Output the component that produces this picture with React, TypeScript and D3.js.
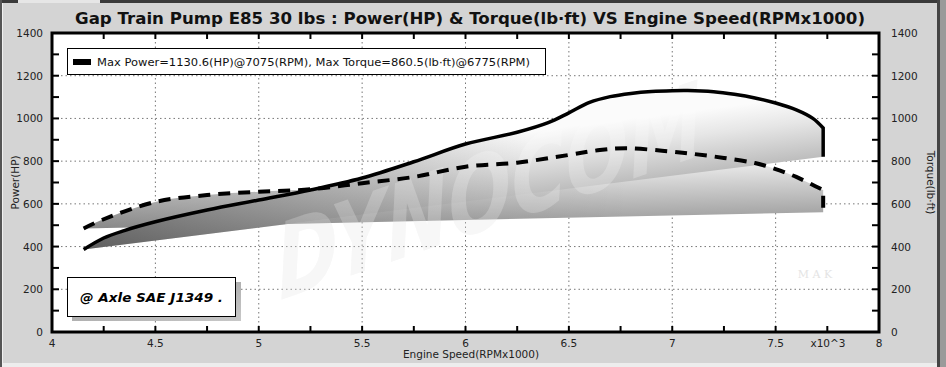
import * as d3 from 'd3';

// values (rpm x1000)
const powerRpm = [4.153, 4.25, 4.35, 4.5, 4.75, 5.0, 5.25, 5.5, 5.75, 6.0, 6.25, 6.4, 6.5, 6.6, 6.7, 6.8, 6.9, 7.0, 7.075, 7.2, 7.3, 7.4, 7.5, 7.6, 7.68, 7.73];
const powerHp = [386, 440, 475, 516, 571, 618, 665, 721, 797, 880, 935, 980, 1026, 1075, 1102, 1117, 1126, 1130, 1130.6, 1125, 1113, 1096, 1072, 1040, 1000, 955];
const torqueRpm = [4.153, 4.25, 4.5, 4.75, 5.0, 5.25, 5.5, 5.75, 6.0, 6.25, 6.5, 6.65, 6.775, 6.95, 7.1, 7.25, 7.4, 7.5, 7.6, 7.7, 7.73];
const torqueLbft = [485, 528, 609, 641, 657, 668, 697, 726, 774, 793, 829, 852, 860.5, 849, 834, 815, 791, 763, 726, 679, 665];
// floor of the shaded ribbons (start, end)
const powerFloor = [386, 820];
const torqueFloor = [485, 561];

const xTicks = [4, 4.5, 5, 5.5, 6, 6.5, 7, 7.5, 8];
const yTicks = [0, 200, 400, 600, 800, 1000, 1200, 1400];

const title = 'Gap Train Pump E85 30 lbs : Power(HP) & Torque(lb·ft) VS Engine Speed(RPMx1000)';
const legendText = 'Max Power=1130.6(HP)@7075(RPM), Max Torque=860.5(lb·ft)@6775(RPM)';

const W = 946;
const H = 367;
const font = 'DejaVu Sans, Verdana, sans-serif';

// gradient vector running from the floor line straight "up" off it
function ribbonGrad(x0: number, y0: number, x1: number, y1: number, len: number) {
  const dx = x1 - x0;
  const dy = y1 - y0;
  const n = Math.hypot(dx, dy);
  const nx = dy / n;
  const ny = -dx / n;
  const mx = (x0 + x1) / 2;
  const my = (y0 + y1) / 2;
  return { x1: mx, y1: my, x2: mx + nx * len, y2: my + ny * len };
}

export default function App() {
  const x = d3.scaleLinear().domain([4, 8]).range([52, 879]);
  const y = d3.scaleLinear().domain([0, 1400]).range([332, 33]);

  const power = powerRpm.map((r, i) => [r, powerHp[i]] as [number, number]);
  const torque = torqueRpm.map((r, i) => [r, torqueLbft[i]] as [number, number]);

  const line = d3.line<[number, number]>().x(d => x(d[0])).y(d => y(d[1])).curve(d3.curveCatmullRom.alpha(0.5));

  const pStart = power[0][0];
  const pEnd = power[power.length - 1][0];
  const tStart = torque[0][0];
  const tEnd = torque[torque.length - 1][0];
  const powerLine = line(power) + `L${x(pEnd)},${y(powerFloor[1])}`;
  const torqueLine = line(torque) + `L${x(tEnd)},${y(torqueFloor[1])}`;
  const powerArea = powerLine + `L${x(pStart)},${y(powerFloor[0])}Z`;
  const torqueArea = torqueLine + `L${x(tStart)},${y(torqueFloor[0])}Z`;

  const gp = ribbonGrad(x(pStart), y(powerFloor[0]), x(pEnd), y(powerFloor[1]), 62);
  const gt = ribbonGrad(x(tStart), y(torqueFloor[0]), x(tEnd), y(torqueFloor[1]), 55);

  const minorX = d3.range(4, 8.01, 0.25);
  const minorY = d3.range(0, 1401, 100);

  return (
    <svg width={W} height={H} style={{ position: 'absolute', left: 0, top: 0 }} fontFamily={font}>
      <defs>
        <linearGradient id="gp" gradientUnits="userSpaceOnUse" {...gp}>
          <stop offset="0" stopColor="#bdbdbd" />
          <stop offset="0.6" stopColor="#e6e6e6" />
          <stop offset="1" stopColor="#fbfbfb" />
        </linearGradient>
        <linearGradient id="gt" gradientUnits="userSpaceOnUse" {...gt}>
          <stop offset="0" stopColor="#a6a6a6" />
          <stop offset="0.6" stopColor="#d2d2d2" />
          <stop offset="1" stopColor="#f0f0f0" />
        </linearGradient>
        <linearGradient id="dp" gradientUnits="userSpaceOnUse" x1={x(pStart)} y1={0} x2={x(6.3)} y2={0}>
          <stop offset="0" stopColor="#000" stopOpacity={0.5} />
          <stop offset="1" stopColor="#000" stopOpacity={0} />
        </linearGradient>
        <linearGradient id="dt" gradientUnits="userSpaceOnUse" x1={x(tStart)} y1={0} x2={x(6.8)} y2={0}>
          <stop offset="0" stopColor="#000" stopOpacity={0.18} />
          <stop offset="1" stopColor="#000" stopOpacity={0} />
        </linearGradient>
        <linearGradient id="sh" x1="0" y1="0" x2="1" y2="1">
          <stop offset="0" stopColor="#9a9a9a" />
          <stop offset="1" stopColor="#c8c8c8" />
        </linearGradient>
      </defs>

      {/* page */}
      <rect width={W} height={H} fill="#d4d4d4" />
      <rect width={W} height={3} fill="#3a3a3a" />
      <rect x={18} y={0} width={82} height={3} fill="#e6e6e6" />
      <rect x={0} y={0} width={2} height={H} fill="#555" />
      <rect x={2} y={3} width={1} height={H} fill="#f0f0f0" />
      <rect x={937} y={0} width={3} height={H} fill="#444" />
      <rect x={940} y={0} width={6} height={H} fill="#9a9a9a" />
      <rect x={3} y={363} width={934} height={4} fill="#ededed" />

      <text x={75} y={23.5} fontSize={15.5} fontWeight="bold" fill="#111" textLength={790} lengthAdjust="spacingAndGlyphs">{title}</text>

      {/* plot */}
      <rect x={52} y={33} width={827} height={299} fill="#fff" />

      {/* watermarks */}
      <text x={0} y={0} transform={`translate(280,300) rotate(-19) skewX(-14)`} fontSize={100} fontWeight="bold" fontStyle="italic" fill="#efefef" opacity={0.6} textLength={450} lengthAdjust="spacingAndGlyphs">DYNOCOM</text>
      <text x={815} y={278} fontSize={11} fontFamily="DejaVu Serif, serif" textAnchor="middle" fill="#e4e4e4">M A K</text>

      <g stroke="#777" strokeWidth={1} strokeDasharray="1.5 3">
        {xTicks.slice(1, -1).map(t => <line key={'gx' + t} x1={x(t)} x2={x(t)} y1={33} y2={332} />)}
        {yTicks.slice(1, -1).map(t => <line key={'gy' + t} x1={52} x2={879} y1={y(t)} y2={y(t)} />)}
      </g>

      <path d={torqueArea} fill="url(#gt)" />
      <path d={torqueArea} fill="url(#dt)" />
      <path d={powerArea} fill="url(#gp)" />
      <path d={powerArea} fill="url(#dp)" />

      <text x={0} y={0} transform={`translate(280,300) rotate(-19) skewX(-14)`} fontSize={100} fontWeight="bold" fontStyle="italic" fill="#ffffff" opacity={0.22} textLength={450} lengthAdjust="spacingAndGlyphs">DYNOCOM</text>

      <path d={torqueLine} fill="none" stroke="#000" strokeWidth={4} strokeDasharray="12 8" />
      <path d={powerLine} fill="none" stroke="#000" strokeWidth={3.5} />

      {/* frame and ticks */}
      <g stroke="#000" strokeWidth={2}>
        {minorX.map(t => (
          <g key={'tx' + t}>
            <line x1={x(t)} x2={x(t)} y1={332} y2={326} />
            <line x1={x(t)} x2={x(t)} y1={33} y2={39} />
          </g>
        ))}
        {minorY.map(t => (
          <g key={'ty' + t}>
            <line x1={52} x2={59} y1={y(t)} y2={y(t)} />
            <line x1={879} x2={872} y1={y(t)} y2={y(t)} />
          </g>
        ))}
      </g>
      <rect x={52} y={33} width={827} height={299} fill="none" stroke="#000" strokeWidth={3} />

      <g fontSize={10.5} fill="#222">
        {yTicks.map(t => (
          <text key={'ly' + t} x={43} y={y(t) + 4} textAnchor="end">{t}</text>
        ))}
        {yTicks.map(t => (
          <text key={'ry' + t} x={891} y={y(t) + 4}>{t}</text>
        ))}
        {xTicks.map(t => (
          <text key={'lx' + t} x={x(t)} y={347} textAnchor="middle">{t}</text>
        ))}
        <text x={828} y={347} textAnchor="middle">x10^3</text>
        <text x={471} y={358} textAnchor="middle">Engine Speed(RPMx1000)</text>
        <text transform={`translate(19,${y(700)}) rotate(-90)`} textAnchor="middle">Power(HP)</text>
        <text transform={`translate(927,${y(700)}) rotate(90)`} textAnchor="middle">Torque(lb·ft)</text>
      </g>

      {/* legend */}
      <rect x={67.5} y={48.5} width={478} height={26} fill="#fff" stroke="#000" strokeWidth={1} />
      <rect x={73} y={59} width={18} height={6} fill="#000" />
      <text x={97} y={66} fontSize={11} fill="#111" textLength={433} lengthAdjust="spacingAndGlyphs">{legendText}</text>

      {/* note */}
      <rect x={72} y={282} width={169} height={39} fill="url(#sh)" />
      <rect x={67.5} y={277.5} width={168} height={39} fill="#fff" stroke="#000" strokeWidth={1} />
      <text x={80} y={301.5} fontSize={13} fontWeight="bold" fontStyle="italic" fill="#000" textLength={143} lengthAdjust="spacingAndGlyphs">@ Axle SAE J1349  .</text>
    </svg>
  );
}
